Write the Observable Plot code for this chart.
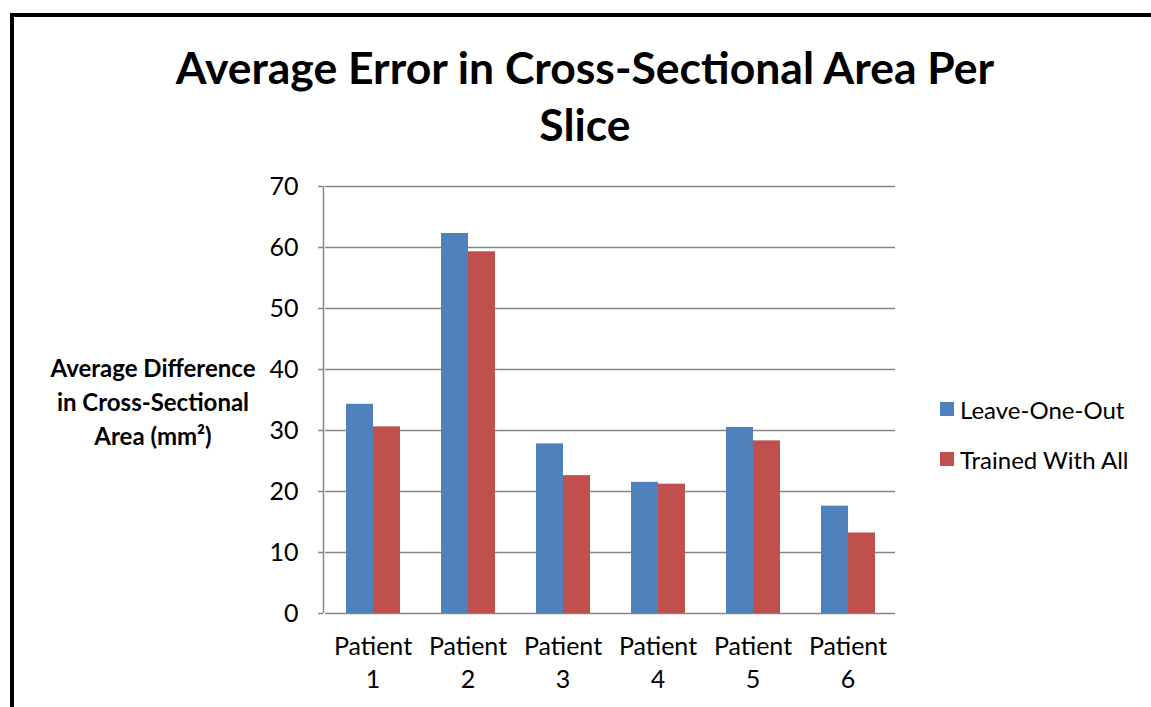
<!DOCTYPE html>
<html>
<head>
<meta charset="utf-8">
<script src="https://cdn.jsdelivr.net/npm/d3@7"></script>
<script src="https://cdn.jsdelivr.net/npm/@observablehq/plot@0.6"></script>
<style>
  html, body { margin: 0; padding: 0; background: #fff; overflow: hidden; }
  #wrap { position: relative; width: 1151px; height: 707px; font-family: Lato, "Open Sans", sans-serif; color: #000; }
  #border { position: absolute; left: 10px; top: 13px; width: 1200px; height: 800px; border: 4px solid #000; box-sizing: border-box; }
  #title { position: absolute; left: 85px; width: 1000px; top: 38px; text-align: center; font-weight: bold; font-size: 44.5px; line-height: 57px; }
  #ylabel { position: absolute; left: 23px; width: 260px; top: 351px; text-align: center; font-weight: bold; font-size: 24px; line-height: 34px; }
  #chart, #yaxis { position: absolute; left: 250px; top: 170px; }
  #yaxis { pointer-events: none; }
  #legend { position: absolute; left: 940px; top: 394px; font-size: 24px; }
  .item { display: flex; align-items: center; height: 30px; margin-bottom: 20px; }
  .sw { width: 14px; height: 14px; margin-right: 6px; }
</style>
</head>
<body>
<div id="wrap">
  <div id="border"></div>
  <div id="title">Average Error in Cross-Sectional Area Per<br>Slice</div>
  <div id="ylabel">Average Difference<br>in Cross-Sectional<br>Area (mm²)</div>
  <div id="chart"></div>
  <div id="yaxis"></div>
  <div id="legend"></div>
</div>
<script>
const patients = ["Patient 1", "Patient 2", "Patient 3", "Patient 4", "Patient 5", "Patient 6"];
const seriesNames = ["Leave-One-Out", "Trained With All"];
const leaveOneOut = [34.3, 62.3, 27.8, 21.5, 30.5, 17.6];
const trainedWithAll = [30.6, 59.3, 22.6, 21.2, 28.3, 13.2];
const yTicks = [0, 10, 20, 30, 40, 50, 60, 70];
const colors = ["#4F81BD", "#C0504D"];

const data = patients.flatMap((p, i) => [
  {patient: p, series: seriesNames[0], value: leaveOneOut[i]},
  {patient: p, series: seriesNames[1], value: trainedWithAll[i]}
]);

const dims = {width: 660, height: 533, marginLeft: 73, marginRight: 14, marginTop: 16, marginBottom: 90};
const font = "Lato, 'Open Sans', sans-serif";

const chart = Plot.plot({
  ...dims,
  style: {fontFamily: font, fontSize: "25px", color: "#000", background: "transparent", overflow: "visible"},
  fx: {domain: patients, padding: 0, axis: null, label: null},
  x: {domain: seriesNames, paddingInner: 0, paddingOuter: 0.75, axis: null},
  y: {domain: [0, 70], axis: null, label: null},
  color: {domain: seriesNames, range: colors},
  marks: [
    Plot.gridY(yTicks, {stroke: "#868686", strokeOpacity: 1, strokeWidth: 1.5}),
    Plot.barY(data, {fx: "patient", x: "series", y: "value", fill: "series", inset: 0}),
    Plot.axisFx({anchor: "bottom", tickSize: 0, tickPadding: 18, fontSize: 25, lineHeight: 1.32, fill: "#000", label: null,
      tickFormat: d => d.replace(" ", "\n")})
  ]
});
document.getElementById("chart").appendChild(chart);

// y axis (line, ticks and labels) drawn as an unfaceted overlay sharing the same frame
const yaxis = Plot.plot({
  ...dims,
  style: {fontFamily: font, fontSize: "25px", color: "#000", background: "transparent", overflow: "visible"},
  x: {domain: [0, 1], axis: null},
  y: {domain: [0, 70], axis: null, label: null},
  marks: [
    Plot.ruleX([0], {stroke: "#868686", strokeWidth: 1.5}),
    Plot.axisY(yTicks, {stroke: "#868686", strokeWidth: 1.5, strokeOpacity: 1, tickSize: 5, tickPadding: 20, fontSize: 25, fill: "#000", label: null})
  ]
});
document.getElementById("yaxis").appendChild(yaxis);

const legend = document.getElementById("legend");
seriesNames.forEach((s, i) => {
  const item = document.createElement("div");
  item.className = "item";
  const sw = document.createElement("div");
  sw.className = "sw";
  sw.style.background = colors[i];
  const t = document.createElement("span");
  t.textContent = s;
  item.appendChild(sw);
  item.appendChild(t);
  legend.appendChild(item);
});
</script>
</body>
</html>
